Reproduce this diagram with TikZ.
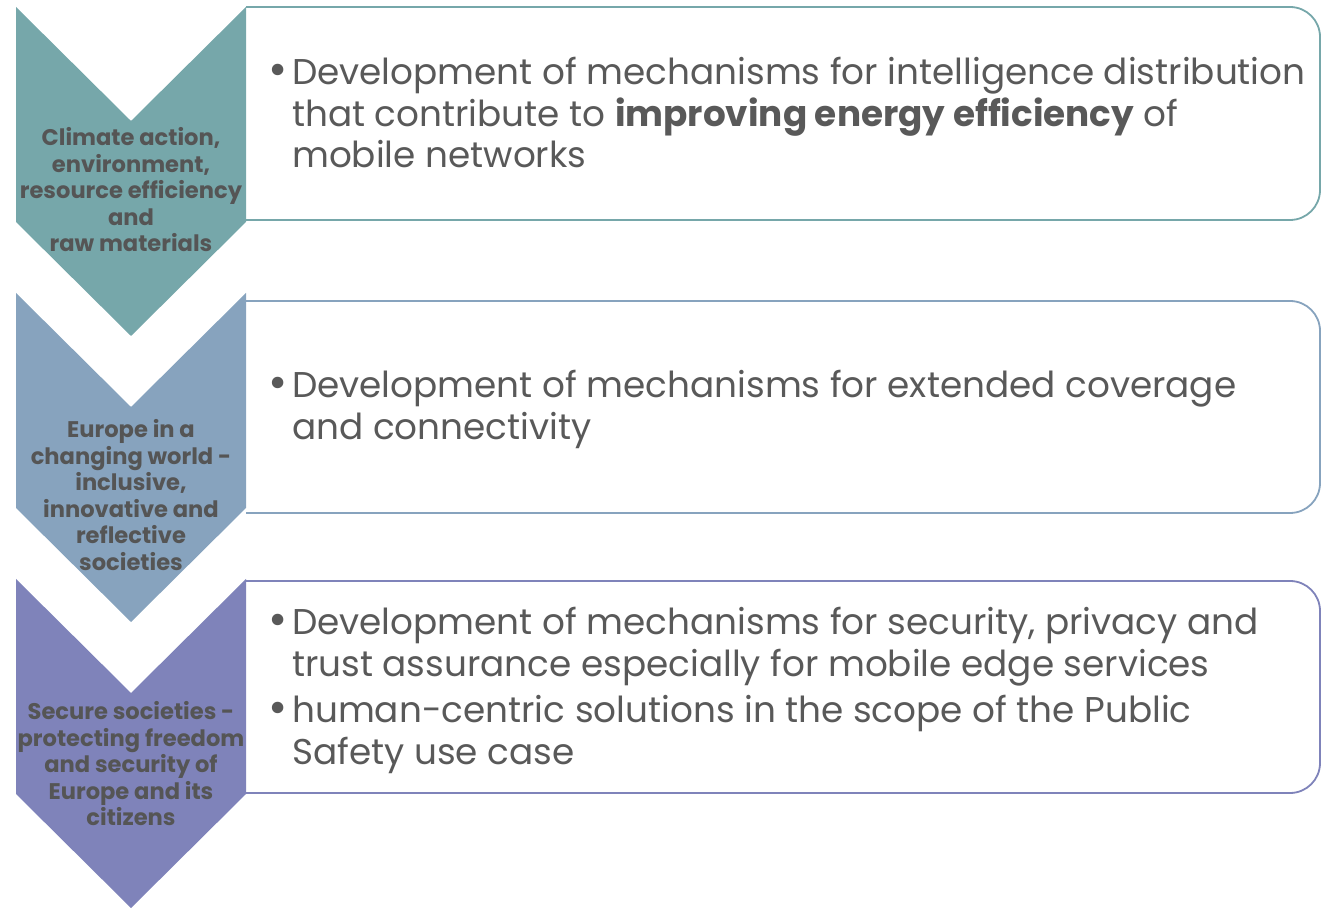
\documentclass[tikz,border=0pt]{standalone}
\usepackage{fontspec}
\setmainfont{Poppins}
\usetikzlibrary{positioning}
\definecolor{climateteal}{RGB}{118,167,170}
\definecolor{europeblue}{RGB}{135,163,190}
\definecolor{securepurple}{RGB}{127,131,186}
\definecolor{labelgray}{RGB}{85,85,85}
\definecolor{textgray}{RGB}{89,89,89}
\tikzset{
  % labels inside the chevrons
  chevlabel/.style={
    align=center,
    inner sep=0pt,
    text=labelgray,
    font=\fontsize{22.6}{26.5}\selectfont\bfseries
  },
  % bullet text in the boxes
  itemtext/.style={
    anchor=base west,
    inner sep=0pt,
    text=textgray,
    font=\fontsize{35.8}{41.5}\selectfont
  },
  % box outline, rounded on the right
  boxline/.style={line width=1.8pt, rounded corners=30pt},
}
\newcommand{\itemrows}[1]{\begin{tabular}[t]{@{}p{20pt}@{}l@{}}#1\end{tabular}}
\newcommand{\bigbullet}{\hspace*{5.5pt}\makebox[0pt]{\raisebox{-1pt}{\scalebox{1.3}{\textbullet}}}}

\begin{document}
\begin{tikzpicture}[x=1pt,y=1pt]
  \useasboundingbox (0,0) rectangle (1321,915);

  % Chevrons
  \foreach \ya/\c in {908/climateteal, 622/europeblue, 336/securepurple} {
    \fill[\c] (16,\ya) -- (131,\ya-114) -- (246,\ya) -- (246,\ya-215)
      -- (131,\ya-329) -- (16,\ya-215) -- cycle;
  }

  % Boxes
  \foreach \ya/\yb/\c in {908/695/climateteal, 614/402/europeblue, 334/122/securepurple} {
    \draw[boxline, draw=\c] (246,\ya) -- (1320,\ya) -- (1320,\yb) -- (246,\yb);
  }

  % Chevron labels
  \node[chevlabel] (climate) at (131,725) {Climate action,\\environment,\\resource efficiency\\and\\raw materials};
  \node[chevlabel] (europe) at (131,420) {Europe in a\\changing world -\\inclusive,\\innovative and\\reflective\\societies};
  \node[chevlabel] (secure) at (131,151) {Secure societies -\\protecting freedom\\and security of\\Europe and its\\citizens};

  % Box texts
  \node[itemtext] (energy) at (272,830) {\itemrows{\bigbullet & Development of mechanisms for intelligence distribution\\
    & that contribute to \textbf{improving energy efficiency} of\\
    & mobile networks}};
  \node[itemtext] (coverage) at (272,517) {\itemrows{\bigbullet & Development of mechanisms for extended coverage\\
    & and connectivity}};
  \node[itemtext] (security) at (272,280) {\itemrows{\bigbullet & Development of mechanisms for security, privacy and\\
    & trust assurance especially for mobile edge services}};
  \node[itemtext] (safety) at (272,192) {\itemrows{\bigbullet & human-centric solutions in the scope of the Public\\
    & Safety use case}};
\end{tikzpicture}
\end{document}
